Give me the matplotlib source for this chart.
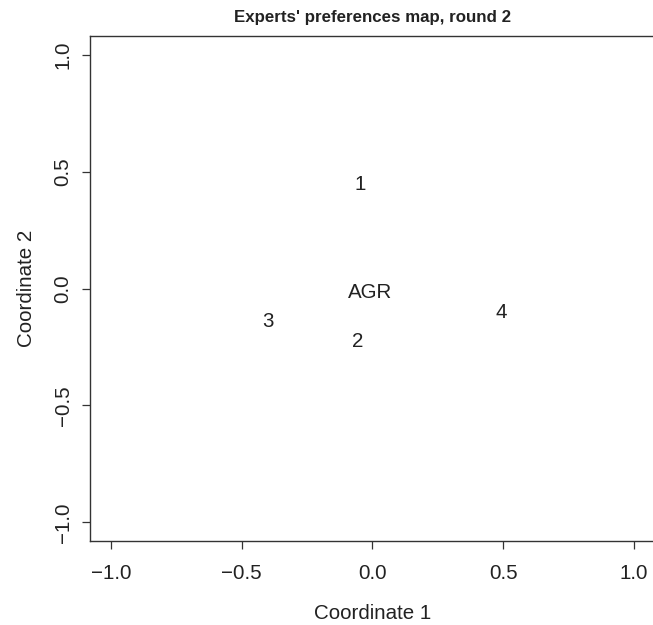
import matplotlib
matplotlib.use('Agg')
import matplotlib.pyplot as plt

plt.rcParams['font.family'] = ['Liberation Sans', 'DejaVu Sans']

labels = ['1', 'AGR', '3', '2', '4']
coord1 = [-0.046, -0.008, -0.40, -0.057, 0.494]
coord2 = [0.446, -0.015, -0.143, -0.228, -0.104]
ticks = [-1.0, -0.5, 0.0, 0.5, 1.0]
tickLabels = ['\u22121.0', '\u22120.5', '0.0', '0.5', '1.0']

fs = 14.8
fig = plt.figure(figsize=(6.53, 6.25), dpi=100)
ax = fig.add_axes([0.1378, 0.1344, 0.8652, 0.808])

for lab, x, y in zip(labels, coord1, coord2):
    ax.text(x, y, lab, ha='center', va='center', fontsize=fs, color='#222222')

ax.set_xlim(-1.08, 1.08)
ax.set_ylim(-1.08, 1.08)
ax.set_xticks(ticks)
ax.set_xticklabels(tickLabels)
ax.set_yticks(ticks)
ax.set_yticklabels(tickLabels, rotation=90, va='center')
ax.tick_params(labelsize=fs, length=5.5, width=0.9, color='#333333', labelcolor='#222222')
ax.tick_params(axis='x', pad=11)
ax.tick_params(axis='y', pad=7)
for s in ax.spines.values():
    s.set_color('#333333')
    s.set_linewidth(1.0)

ax.set_xlabel('Coordinate 1', fontsize=fs, color='#222222', labelpad=15)
ax.set_ylabel('Coordinate 2', fontsize=fs, color='#222222', labelpad=13)
ax.set_title("Experts' preferences map, round 2", fontsize=12.2, fontweight='bold', color='#222222', pad=10)

plt.savefig('out.png', dpi=100)
